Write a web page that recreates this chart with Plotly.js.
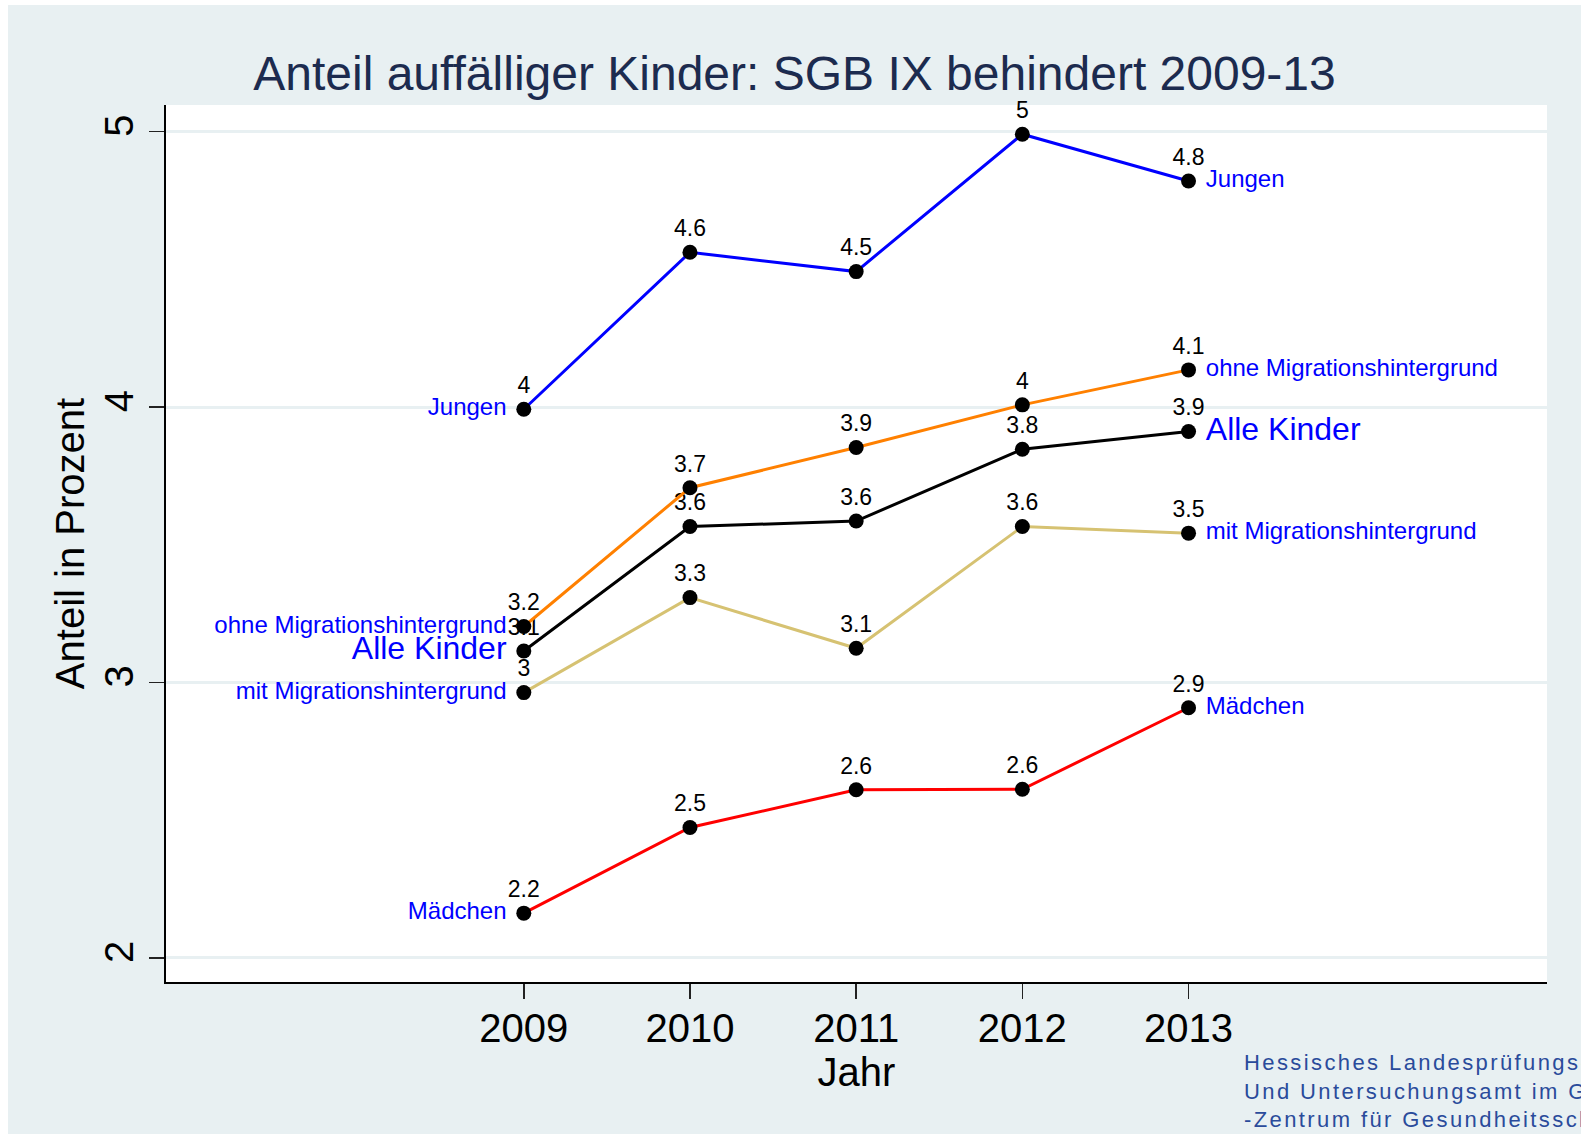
<!DOCTYPE html>
<html>
<head>
<meta charset="utf-8">
<script src="https://cdn.plot.ly/plotly-3.0.1.min.js"></script>
<style>
  html, body { margin: 0; padding: 0; background: #ffffff; overflow: hidden; }
  #chart { position: absolute; left: 8px; top: 5px; width: 1573px; height: 1129px; }
  /* Stata spreads the source note out a bit */
  #chart .annotation-text { letter-spacing: 2.4px; }
</style>
</head>
<body>
<div id="chart"></div>
<script>
// Values (percent of children)
const years = [2009, 2010, 2011, 2012, 2013];
const alleKinder = [3.114, 3.566, 3.586, 3.847, 3.911];
const jungen = [3.992, 4.562, 4.492, 4.991, 4.821];
const maedchen = [2.162, 2.473, 2.610, 2.612, 2.908];
const mitMigration = [2.963, 3.308, 3.124, 3.566, 3.542];
const ohneMigration = [3.203, 3.707, 3.853, 4.008, 4.135];

const fontFamily = 'Liberation Sans, Arial, sans-serif';
const bgColor = '#e8f0f2';

// Stata style value label: one decimal, no trailing zero
function fmt(v) {
    return String(Math.round(v * 10) / 10);
}

function lineTrace(values, color) {
    return {
        x: years,
        y: values,
        mode: 'lines+markers+text',
        line: { color: color, width: 3 },
        marker: { size: 15, color: 'black' },
        text: values.map(fmt),
        textposition: 'top center',
        textfont: { family: fontFamily, size: 23, color: 'black' },
        cliponaxis: false,
        showlegend: false,
        hoverinfo: 'skip'
    };
}

// Series name at the first or last point (invisible marker gives the gap)
function nameLabel(name, values, side, size) {
    const i = side == 'left' ? 0 : values.length - 1;
    return {
        x: [years[i]],
        y: [values[i]],
        mode: 'markers+text',
        marker: { size: 26, color: 'rgba(0,0,0,0)' },
        text: [name],
        textposition: side == 'left' ? 'middle left' : 'middle right',
        textfont: { family: fontFamily, size: size, color: '#0000ff' },
        cliponaxis: false,
        showlegend: false,
        hoverinfo: 'skip'
    };
}

const traces = [
    lineTrace(alleKinder, '#000000'),
    lineTrace(maedchen, '#ff0000'),
    lineTrace(jungen, '#0000ff'),
    lineTrace(mitMigration, '#d6c272'),
    lineTrace(ohneMigration, '#ff8000'),
    nameLabel('Jungen', jungen, 'left', 24),
    nameLabel('Jungen', jungen, 'right', 24),
    nameLabel('ohne Migrationshintergrund', ohneMigration, 'left', 24),
    nameLabel('ohne Migrationshintergrund', ohneMigration, 'right', 24),
    nameLabel('Alle Kinder', alleKinder, 'left', 32),
    nameLabel('Alle Kinder', alleKinder, 'right', 32),
    nameLabel('mit Migrationshintergrund', mitMigration, 'left', 24),
    nameLabel('mit Migrationshintergrund', mitMigration, 'right', 24),
    nameLabel('Mädchen', maedchen, 'left', 24),
    nameLabel('Mädchen', maedchen, 'right', 24)
];

const layout = {
    width: 1573,
    height: 1129,
    margin: { l: 158, r: 34, t: 100, b: 152 },
    paper_bgcolor: bgColor,
    plot_bgcolor: '#ffffff',
    font: { family: fontFamily, color: '#000000' },
    title: {
        text: 'Anteil auffälliger Kinder: SGB IX behindert 2009-13',
        font: { family: fontFamily, size: 48, color: '#1c2b4f' },
        x: 0.5,
        xanchor: 'center',
        y: 0.940,
        yanchor: 'middle'
    },
    xaxis: {
        range: [2006.847, 2015.157],
        tickvals: years,
        ticktext: years.map(String),
        ticks: 'outside',
        ticklen: 15,
        tickwidth: 1.5,
        tickcolor: '#222222',
        ticklabelstandoff: -5,
        showline: true,
        linecolor: '#000000',
        linewidth: 2,
        showgrid: false,
        zeroline: false,
        tickfont: { size: 40 },
        title: { text: 'Jahr', font: { size: 40 }, standoff: 0 }
    },
    yaxis: {
        range: [1.912, 5.097],
        tickvals: [2, 3, 4, 5],
        tickangle: -90,
        ticks: 'outside',
        ticklen: 15,
        tickwidth: 1.5,
        tickcolor: '#222222',
        showline: true,
        linecolor: '#000000',
        linewidth: 2,
        showgrid: true,
        gridcolor: bgColor,
        gridwidth: 3,
        zeroline: false,
        tickfont: { size: 40 },
        title: { text: 'Anteil in Prozent', font: { size: 40 }, standoff: 0 }
    },
    annotations: [{
        xref: 'paper',
        yref: 'paper',
        x: 0.7794,
        y: -0.1239,
        xanchor: 'left',
        yanchor: 'middle',
        align: 'left',
        showarrow: false,
        text: 'Hessisches Landesprüfungs-<br>Und Untersuchungsamt im Gesundheitswesen<br>-Zentrum für Gesundheitsschutz-',
        font: { family: fontFamily, size: 22, color: '#2a4b9b' }
    }]
};

Plotly.newPlot('chart', traces, layout, { displayModeBar: false, staticPlot: true });
</script>
</body>
</html>
